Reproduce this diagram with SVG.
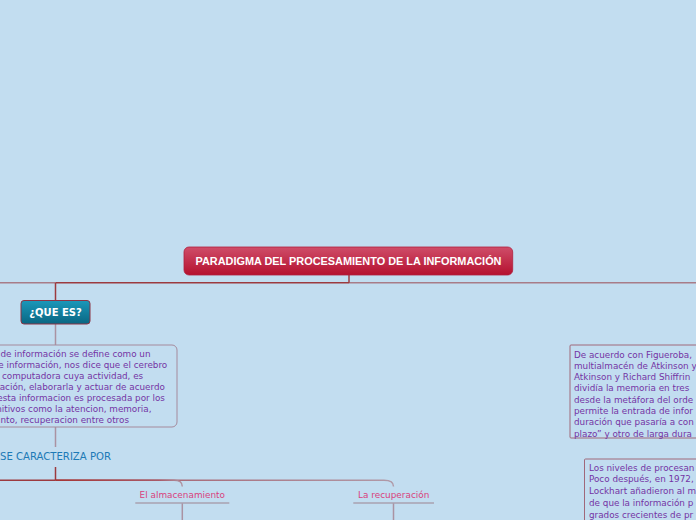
<svg xmlns="http://www.w3.org/2000/svg" width="696" height="520" viewBox="0 0 696 520">
<defs>
<linearGradient id="gRoot" x1="0" y1="0" x2="0" y2="1">
<stop offset="0" stop-color="#cf4d69"/>
<stop offset="1" stop-color="#b5112f"/>
</linearGradient>
<linearGradient id="gTeal" x1="0" y1="0" x2="0" y2="1">
<stop offset="0" stop-color="#1b98ba"/>
<stop offset="1" stop-color="#0a6682"/>
</linearGradient>
<linearGradient id="gBr" gradientUnits="userSpaceOnUse" x1="55" y1="0" x2="395" y2="0">
<stop offset="0" stop-color="#a53535"/>
<stop offset="0.35" stop-color="#a86a78"/>
<stop offset="1" stop-color="#b09aa8"/>
</linearGradient>
<linearGradient id="gBr2" gradientUnits="userSpaceOnUse" x1="55" y1="0" x2="185" y2="0">
<stop offset="0" stop-color="#a53535"/>
<stop offset="0.8" stop-color="#a85a68"/>
<stop offset="1" stop-color="#b09aa8"/>
</linearGradient>
</defs>
<style>
.body{font-family:"DejaVu Sans",Verdana,sans-serif;font-size:8.8px;fill:#7434a4}
.box{fill:none;stroke:#a58a9c;stroke-width:1}
.rbox{fill:none;stroke:#a0687a;stroke-width:1}
.sub{font-family:"DejaVu Sans",Verdana,sans-serif;font-size:8.9px;fill:#d93f7c;text-anchor:middle}
.ul{stroke:#a8a0b0;stroke-width:1.5}
.dk{stroke:#9c3a3f;stroke-width:1.5;fill:none}
.lt{stroke:#a87c88;stroke-width:1.5;fill:none}
.gr{stroke:#aa92a2;stroke-width:1.5;fill:none}
</style>
<rect width="696" height="520" fill="#c2ddf0"/>
<g id="connectors">
<line x1="0" y1="282.8" x2="55.5" y2="282.8" class="lt"/>
<line x1="55.5" y1="282.8" x2="349" y2="282.8" class="dk"/>
<line x1="349" y1="282.8" x2="696" y2="282.8" class="lt"/>
<line x1="349" y1="274" x2="349" y2="282.8" class="dk"/>
<line x1="55.5" y1="282.8" x2="55.5" y2="300.5" class="dk"/>
<line x1="55.5" y1="324" x2="55.5" y2="345" class="gr"/>
<line x1="55.5" y1="427" x2="55.5" y2="447" class="gr"/>
<line x1="55.5" y1="467" x2="55.5" y2="480.3" class="dk"/>
<line x1="0" y1="480.3" x2="55.5" y2="480.3" class="dk"/>
<path d="M55.5 480.3 H384 Q393.5 480.3 393.5 486.5" stroke="url(#gBr)" stroke-width="1.5" fill="none"/>
<path d="M55.5 480.3 H174 Q182.3 480.3 182.3 486.5" stroke="url(#gBr2)" stroke-width="1.5" fill="none"/>
<line x1="182.3" y1="503" x2="182.3" y2="520" class="gr"/>
<line x1="393.5" y1="503" x2="393.5" y2="520" class="gr"/>
</g>
<g id="root">
<rect x="184" y="247" width="328.7" height="28" rx="5" fill="url(#gRoot)" stroke="#b0203e" stroke-width="0.8"/>
<text x="348.5" y="265" text-anchor="middle" font-family="'Liberation Sans',Arial,sans-serif" font-weight="bold" font-size="10.9" fill="#ffffff">PARADIGMA DEL PROCESAMIENTO DE LA INFORMACIÓN</text>
</g>
<g id="que-es">
<rect x="21" y="300.5" width="69" height="23.5" rx="3" fill="url(#gTeal)" stroke="#8c3444" stroke-width="1"/>
<text x="55.5" y="315.5" text-anchor="middle" font-family="'DejaVu Sans',Verdana,sans-serif" font-weight="bold" font-size="10" fill="#ffffff">¿QUE ES?</text>
</g>
<g id="definicion">
<rect x="-10" y="345" width="187" height="82" rx="5" class="box"/>
<text class="body" text-anchor="end">
<tspan x="153.3" y="357">de información se define como un</tspan>
<tspan x="170" y="368">e información, nos dice que el cerebro</tspan>
<tspan x="146" y="379">computadora cuya actividad, es</tspan>
<tspan x="167.7" y="390">ación, elaborarla y actuar de acuerdo</tspan>
<tspan x="167.7" y="401">esta informacion es procesada por los</tspan>
<tspan x="154.3" y="412">nitivos como la atencion, memoria,</tspan>
<tspan x="129" y="423">nto, recuperacion entre otros</tspan>
</text>
</g>
<g id="caracteriza">
<text x="0" y="460.3" font-family="'DejaVu Sans',Verdana,sans-serif" font-size="10.1" fill="#1d7ab6">SE CARACTERIZA POR</text>
</g>
<g id="almacenamiento">
<text x="182.3" y="498" class="sub">El almacenamiento</text>
<line x1="135.3" y1="503" x2="229.3" y2="503" class="ul"/>
</g>
<g id="recuperacion">
<text x="393.7" y="498" class="sub">La recuperación</text>
<line x1="353.3" y1="503" x2="434" y2="503" class="ul"/>
</g>
<g id="figueroba">
<rect x="570" y="345" width="140" height="93" rx="1" class="rbox"/>
<text class="body">
<tspan x="574" y="357.5">De acuerdo con Figueroba,</tspan>
<tspan x="574" y="368.8">multialmacén de Atkinson y</tspan>
<tspan x="574" y="380.1">Atkinson y Richard Shiffrin</tspan>
<tspan x="574" y="391.4">dividía la memoria en tres</tspan>
<tspan x="574" y="402.7">desde la metáfora del orde</tspan>
<tspan x="574" y="414">permite la entrada de infor</tspan>
<tspan x="574" y="425.3">duración que pasaría a con</tspan>
<tspan x="574" y="436.6">plazo” y otro de larga dura</tspan>
</text>
</g>
<g id="niveles">
<rect x="584.5" y="459" width="130" height="80" rx="1" class="rbox"/>
<text class="body">
<tspan x="589" y="470.5">Los niveles de procesan</tspan>
<tspan x="589" y="482">Poco después, en 1972,</tspan>
<tspan x="589" y="494">Lockhart añadieron al m</tspan>
<tspan x="589" y="506">de que la información p</tspan>
<tspan x="589" y="517.5">grados crecientes de pr</tspan>
</text>
</g>
</svg>
